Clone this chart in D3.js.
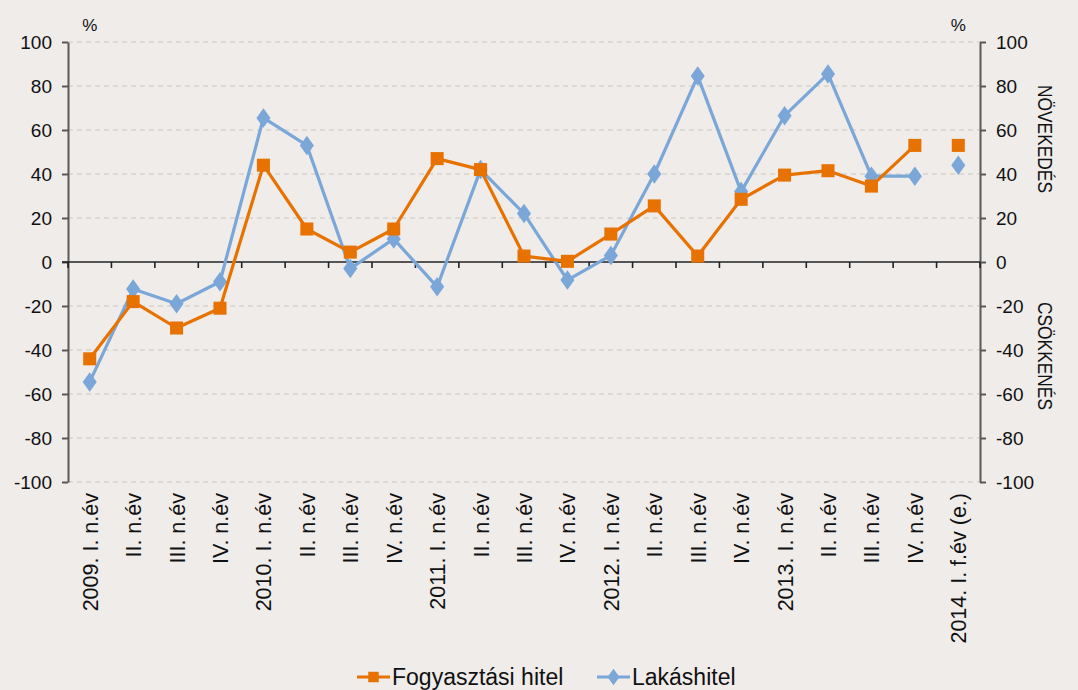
<!DOCTYPE html>
<html><head><meta charset="utf-8">
<script src="https://cdn.jsdelivr.net/npm/d3@7"></script>
<style>
html,body{margin:0;padding:0;background:#efecea;}
svg{display:block;font-family:"Liberation Sans",Arial,sans-serif;}
</style></head>
<body><svg id="c" width="1078" height="690"></svg>
<script>
const categories = ["2009. I. n.év","II. n.év","III. n.év","IV. n.év","2010. I. n.év","II. n.év","III. n.év","IV. n.év","2011. I. n.év","II. n.év","III. n.év","IV. n.év","2012. I. n.év","II. n.év","III. n.év","IV. n.év","2013. I. n.év","II. n.év","III. n.év","IV. n.év","2014. I. f.év (e.)"];
const fogyasztasi = [-44,-18,-30,-21,44,15,4.5,15,47,42,2.7,0.3,12.7,25.5,2.7,28.5,39.5,41.5,34.5,53,53];
const lakas = [-54.5,-12.3,-19,-9,65.5,53,-3,10.5,-11.3,42,22,-8.2,3,40,84.5,32,66.5,85.5,39,39,44];
const lineBreakAt = 20; // last (estimate) point is not connected
const yTicks = [-100,-80,-60,-40,-20,0,20,40,60,80,100];
const seriesNames = ["Fogyasztási hitel","Lakáshitel"];

const svg = d3.select("#c");
const m = {l:68, r:980, t:42, b:482};
const idx = d3.range(categories.length);
const x = d3.scaleBand().domain(idx).range([m.l, m.r]);
const y = d3.scaleLinear().domain([-100,100]).range([m.b, m.t]);
const orange = "#e87200", blue = "#7aa7d8", axisCol = "#595959";

// gridlines
svg.append("g").selectAll("line").data(yTicks.filter(d=>d!==0)).join("line")
  .attr("x1", m.l).attr("x2", m.r).attr("y1", d=>y(d)).attr("y2", d=>y(d))
  .attr("stroke","#d8d4d0").attr("stroke-width",1.3).attr("stroke-dasharray","5,4");

// y axes
const la = svg.append("g").attr("transform",`translate(${m.l},0)`)
  .call(d3.axisLeft(y).tickValues(yTicks).tickSize(6).tickPadding(10).tickSizeOuter(0));
const ra = svg.append("g").attr("transform",`translate(${m.r},0)`)
  .call(d3.axisRight(y).tickValues(yTicks).tickSize(6).tickPadding(10).tickSizeOuter(0));
[la,ra].forEach(g=>{
  g.attr("font-size",19).attr("font-family","Liberation Sans, Arial, sans-serif");
  g.select(".domain").attr("stroke",axisCol).attr("stroke-width",2);
  g.selectAll(".tick line").attr("stroke",axisCol).attr("stroke-width",2);
  g.selectAll(".tick text").attr("fill","#111").text(d=>d<0?"-"+Math.abs(d):d);
});

// zero axis with category boundary ticks
const xa = svg.append("g").attr("transform",`translate(0,${y(0)})`);
xa.append("line").attr("x1",m.l-6).attr("x2",m.r).attr("stroke","#222").attr("stroke-width",1.6);
const bounds = idx.map(i=>x(i)).concat([m.r]);
xa.selectAll("line.t").data(bounds).join("line").attr("class","t")
  .attr("x1",d=>d).attr("x2",d=>d).attr("y1",0).attr("y2",6).attr("stroke","#222").attr("stroke-width",1.6);

// category labels
svg.append("g").selectAll("text").data(categories).join("text")
  .attr("transform",(d,i)=>`translate(${x(i)+x.bandwidth()/2+8},${m.b+11}) rotate(-90)`)
  .attr("text-anchor","end").attr("font-size",21.5).attr("fill","#111").text(d=>d);

// % labels
svg.append("text").attr("x", x(0)+x.bandwidth()/2).attr("y",31).attr("text-anchor","middle").attr("font-size",17).attr("fill","#111").text("%");
svg.append("text").attr("x", x(20)+x.bandwidth()/2).attr("y",31).attr("text-anchor","middle").attr("font-size",17).attr("fill","#111").text("%");

// side labels
svg.append("text").attr("transform",`translate(1038,139) rotate(90)`).attr("text-anchor","middle").attr("font-size",20).attr("textLength",108).attr("lengthAdjust","spacingAndGlyphs").attr("fill","#111").text("NÖVEKEDÉS");
svg.append("text").attr("transform",`translate(1038,356) rotate(90)`).attr("text-anchor","middle").attr("font-size",20).attr("textLength",108).attr("lengthAdjust","spacingAndGlyphs").attr("fill","#111").text("CSÖKKENÉS");

const cx = (d,i)=>x(i)+x.bandwidth()/2;
const line = d3.line().defined((d,i)=>i<lineBreakAt && d!=null).x(cx).y(d=>y(d));

function drawSeries(vals,col,shape){
  svg.append("path").datum(vals).attr("d",line).attr("fill","none").attr("stroke",col).attr("stroke-width",3.2).attr("stroke-linejoin","round");
  const sym = d3.symbol().type(shape==="square"?d3.symbolSquare:d3.symbolDiamond).size(shape==="square"?170:110);
  svg.append("g").selectAll("path").data(vals).join("path")
    .attr("transform",(d,i)=>`translate(${cx(d,i)},${y(d)})${shape==="diamond"?" scale(1.25,1)":""}`)
    .attr("d",sym).attr("fill",col);
}
drawSeries(lakas, blue, "diamond");
drawSeries(fogyasztasi, orange, "square");

// legend
const leg = svg.append("g").attr("transform","translate(0,677)");
const items = [{n:seriesNames[0],c:orange,s:"square",x:357},{n:seriesNames[1],c:blue,s:"diamond",x:597}];
items.forEach(it=>{
  const g = leg.append("g").attr("transform",`translate(${it.x},0)`);
  g.append("line").attr("x1",0).attr("x2",33).attr("y1",0).attr("y2",0).attr("stroke",it.c).attr("stroke-width",3.2);
  g.append("path").attr("transform",`translate(16.5,0)${it.s==="diamond"?" scale(1.25,1)":""}`)
    .attr("d",d3.symbol().type(it.s==="square"?d3.symbolSquare:d3.symbolDiamond).size(it.s==="square"?110:80)).attr("fill",it.c);
  g.append("text").attr("x",35).attr("y",8).attr("font-size",23).attr("fill","#111").text(it.n);
});
</script></body></html>
